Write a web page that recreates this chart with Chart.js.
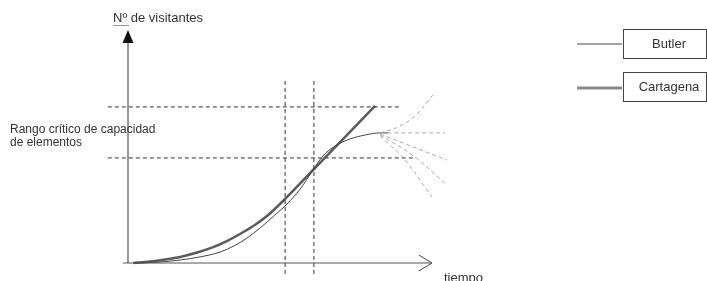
<!DOCTYPE html>
<html>
<head>
<meta charset="utf-8">
<script src="https://cdn.jsdelivr.net/npm/chart.js@4.4.1/dist/chart.umd.min.js"></script>
<style>
    body { margin: 0; background: #fff; }
    #wrap { width: 707px; height: 281px; position: relative; }
</style>
</head>
<body>
<div id="wrap"><canvas id="chart"></canvas></div>
<script>
// Curvas (tiempo -> nº de visitantes)
const butlerT = [0.22, 1.0, 1.63, 2.25, 2.88, 3.34, 3.72, 4.13, 4.59, 4.97, 5.38, 5.78, 6.09, 6.47, 6.94, 7.41, 7.88, 8.13];
const butlerV = [0, 0.04, 0.13, 0.26, 0.47, 0.75, 1.07, 1.50, 2.05, 2.52, 3.16, 3.97, 4.57, 5.0, 5.30, 5.47, 5.56, 5.56];

const cartagenaT = [0.16, 0.69, 1.16, 1.63, 2.16, 2.66, 3.09, 3.5, 3.94, 4.38, 4.91, 5.78, 7.72];
const cartagenaV = [0, 0.064, 0.15, 0.26, 0.45, 0.68, 0.94, 1.24, 1.60, 2.05, 2.74, 3.97, 6.71];

// Escenarios futuros (ramas discontinuas)
const branchUpT = [7.88, 8.44, 8.97, 9.53];
const branchUpV = [5.56, 5.81, 6.28, 7.18];
const branchFlatT = [7.88, 9.91];
const branchFlatV = [5.56, 5.56];
const branchDown1T = [7.88, 9.97];
const branchDown1V = [5.51, 4.40];
const branchDown2T = [7.88, 8.9, 9.97];
const branchDown2V = [5.47, 4.6, 3.33];
const branchDown3T = [7.88, 8.66, 9.5];
const branchDown3V = [5.43, 4.40, 2.82];

// Rango crítico y umbrales de tiempo
const rangeV = [6.67, 4.49];
const rangeStartT = [-0.63, -0.63];
const rangeEndT = [8.56, 9.0];
const thresholdT = [4.91, 5.81];
const thresholdV = [7.78, -0.47];

// Ejes
const axisYTop = 9.40;
const axisXStart = -0.16;
const axisXEnd = 9.5;
const arrowYT = [-0.17, 0, 0.17];
const arrowYV = [9.40, 9.96, 9.40];
const arrowXT = [9.09, 9.5, 9.09];
const arrowXV = [0.34, 0, -0.34];

function pts(ts, vs) {
    return ts.map((t, i) => ({ x: t, y: vs[i] }));
}

function lineSet(data, color, width, dash, curved) {
    return {
        data: data,
        showLine: true,
        borderColor: color,
        borderWidth: width,
        borderDash: dash || [],
        pointRadius: 0,
        fill: false,
        clip: false,
        tension: 0,
        cubicInterpolationMode: curved ? "monotone" : "default"
    };
}

const datasets = [];

// Ejes
datasets.push(lineSet([{ x: 0, y: 0 }, { x: 0, y: axisYTop }], "#333", 1));
datasets.push(lineSet([{ x: axisXStart, y: 0 }, { x: axisXEnd, y: 0 }], "#555", 1));
datasets.push(Object.assign(lineSet(pts(arrowYT, arrowYV), "#111", 0), {
    fill: "shape", backgroundColor: "#111"
}));
datasets.push(lineSet(pts(arrowXT, arrowXV), "#444", 1));

// Lineas discontinuas negras
rangeV.forEach((v, i) => {
    datasets.push(lineSet([{ x: rangeStartT[i], y: v }, { x: rangeEndT[i], y: v }], "#333", 1, [4, 3]));
});
thresholdT.forEach(t => {
    datasets.push(lineSet([{ x: t, y: thresholdV[0] }, { x: t, y: thresholdV[1] }], "#333", 1, [4, 3]));
});

// Ramas grises
[[branchUpT, branchUpV], [branchFlatT, branchFlatV], [branchDown1T, branchDown1V],
 [branchDown2T, branchDown2V], [branchDown3T, branchDown3V]].forEach(b => {
    datasets.push(lineSet(pts(b[0], b[1]), "#aaa", 1, [4, 3], true));
});

// Curvas principales
datasets.push(lineSet(pts(butlerT, butlerV), "#444", 1, null, true));
datasets.push(lineSet(pts(cartagenaT, cartagenaV), "#5a5a5a", 2.5, null, true));

// Textos y leyenda
const textPlugin = {
    id: "texts",
    afterDraw(chart) {
        const ctx = chart.ctx;
        ctx.save();
        ctx.fillStyle = "#333";
        ctx.textBaseline = "alphabetic";
        ctx.font = "13px 'Liberation Sans', Arial, sans-serif";
        ctx.fillText("Nº de visitantes", 113, 22);
        // subrayado de Nº
        ctx.strokeStyle = "#999";
        ctx.lineWidth = 1;
        ctx.beginPath();
        ctx.moveTo(113, 25.5);
        ctx.lineTo(129, 25.5);
        ctx.stroke();

        ctx.font = "12px 'Liberation Sans', Arial, sans-serif";
        ctx.fillText("Rango crítico de capacidad", 10, 133);
        ctx.fillText("de elementos", 10, 146);

        ctx.font = "13px 'Liberation Sans', Arial, sans-serif";
        ctx.fillText("tiempo", 444, 282);

        // Leyenda
        const items = [
            { label: "Butler", color: "#444", width: 1, y: 44, boxY: 29.5 },
            { label: "Cartagena", color: "#888", width: 3, y: 88, boxY: 72.5 }
        ];
        items.forEach(it => {
            ctx.strokeStyle = it.color;
            ctx.lineWidth = it.width;
            ctx.beginPath();
            ctx.moveTo(577, it.y);
            ctx.lineTo(622, it.y);
            ctx.stroke();

            ctx.strokeStyle = "#444";
            ctx.lineWidth = 1;
            ctx.strokeRect(623.5, it.boxY, 83, 29);

            ctx.fillStyle = "#333";
            ctx.textAlign = "center";
            ctx.textBaseline = "middle";
            ctx.fillText(it.label, 669, it.boxY + 15);
        });
        ctx.restore();
    }
};

new Chart(document.getElementById("chart"), {
    type: "scatter",
    data: { datasets: datasets },
    options: {
        responsive: true,
        maintainAspectRatio: false,
        animation: false,
        layout: { padding: { left: 96, right: 259, top: 29, bottom: 18 } },
        plugins: {
            legend: { display: false },
            tooltip: { enabled: false }
        },
        scales: {
            x: { type: "linear", min: -1, max: 10, display: false },
            y: { type: "linear", min: 0, max: 10, display: false }
        }
    },
    plugins: [textPlugin]
});
</script>
</body>
</html>
